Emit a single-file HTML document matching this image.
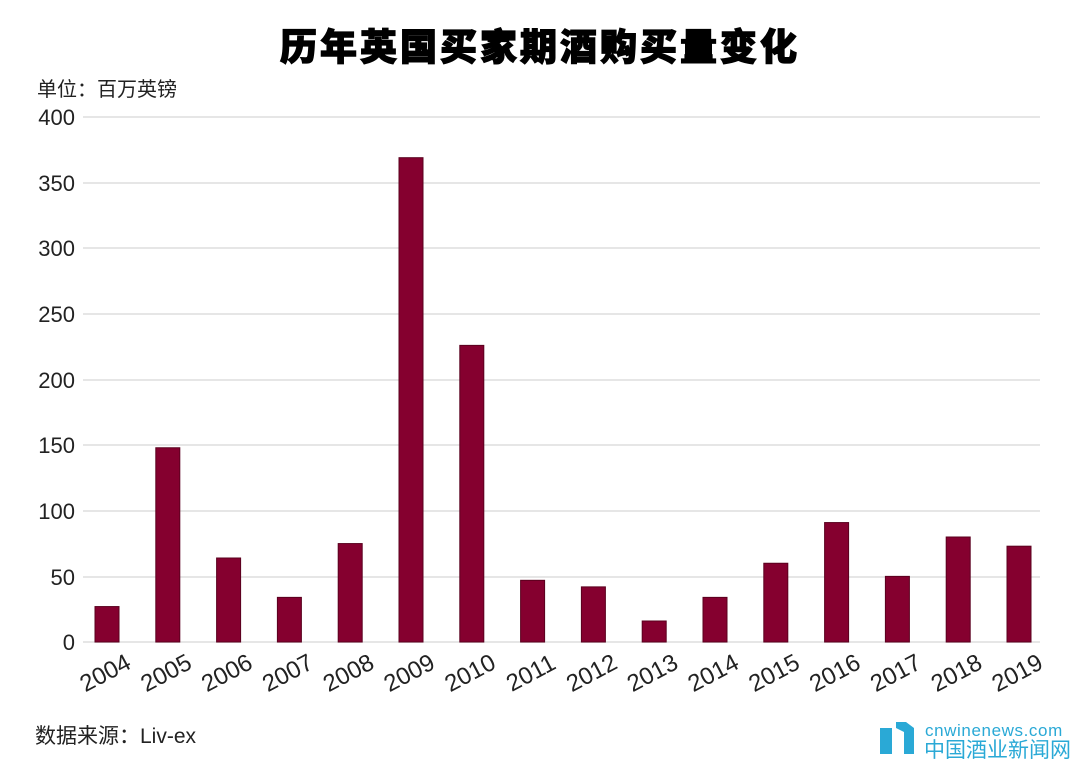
<!DOCTYPE html>
<html><head><meta charset="utf-8"><style>
body{margin:0;background:#fff;width:1080px;height:759px;overflow:hidden}
svg{display:block}
</style></head><body>
<svg width="1080" height="759" xmlns="http://www.w3.org/2000/svg" font-family="Liberation Sans, Noto Sans CJK SC, sans-serif">
<text x="540" y="60" text-anchor="middle" font-size="37" font-weight="900" font-family="Noto Sans CJK SC, sans-serif" fill="#000" stroke="#000" stroke-width="1.2" letter-spacing="3">历年英国买家期酒购买量变化</text>
<text x="37" y="96" font-size="20" fill="#222" font-family="Liberation Sans, Noto Sans CJK SC, sans-serif">单位：百万英镑</text>
<g stroke="#e6e6e6" stroke-width="2">
<line x1="83" x2="1040" y1="117" y2="117"/><line x1="83" x2="1040" y1="183" y2="183"/>
<line x1="83" x2="1040" y1="248" y2="248"/><line x1="83" x2="1040" y1="314" y2="314"/>
<line x1="83" x2="1040" y1="380" y2="380"/><line x1="83" x2="1040" y1="445" y2="445"/>
<line x1="83" x2="1040" y1="511" y2="511"/><line x1="83" x2="1040" y1="577" y2="577"/>
<line x1="83" x2="1040" y1="642" y2="642"/>
</g>
<g font-size="22" fill="#222" text-anchor="end">
<text x="75" y="125">400</text><text x="75" y="191">350</text><text x="75" y="256">300</text>
<text x="75" y="322">250</text><text x="75" y="388">200</text><text x="75" y="453">150</text>
<text x="75" y="519">100</text><text x="75" y="585">50</text><text x="75" y="650">0</text>
</g>
<g fill="#85002f" stroke="#5a001e" stroke-width="1" id="bars"></g>
<g id="labels" font-size="24" fill="#222" text-anchor="middle"></g>
<text x="35" y="743" font-size="21" fill="#222">数据来源：Liv-ex</text>
<g fill="#2aa9d6">
<path d="M880 728 h12 v26 h-12z M896 722 h10 l8 6 v26 h-10 v-22 l-8-4z"/>
</g>
<text x="925" y="736" font-size="17" fill="#2aa9d6" letter-spacing="0.6">cnwinenews.com</text>
<text x="924" y="757" font-size="21" fill="#2aa9d6" font-family="Noto Sans CJK SC, sans-serif">中国酒业新闻网</text>
<script>
var v=[27,148,64,34,75,369,226,47,42,16,34,60,91,50,80,73];
var b=document.getElementById('bars'),l=document.getElementById('labels'),ns='http://www.w3.org/2000/svg';
for(var i=0;i<16;i++){var x=95+i*60.8,h=v[i]*1.3125;
var r=document.createElementNS(ns,'rect');r.setAttribute('x',x);r.setAttribute('y',642-h);r.setAttribute('width',24);r.setAttribute('height',h);b.appendChild(r);
var t=document.createElementNS(ns,'text');var cx=x+14,cy=680;t.setAttribute('x',cx);t.setAttribute('y',cy);t.setAttribute('transform','rotate(-28 '+cx+' '+cy+')');t.textContent=2004+i;l.appendChild(t);}
</script>
</svg>
</body></html>
